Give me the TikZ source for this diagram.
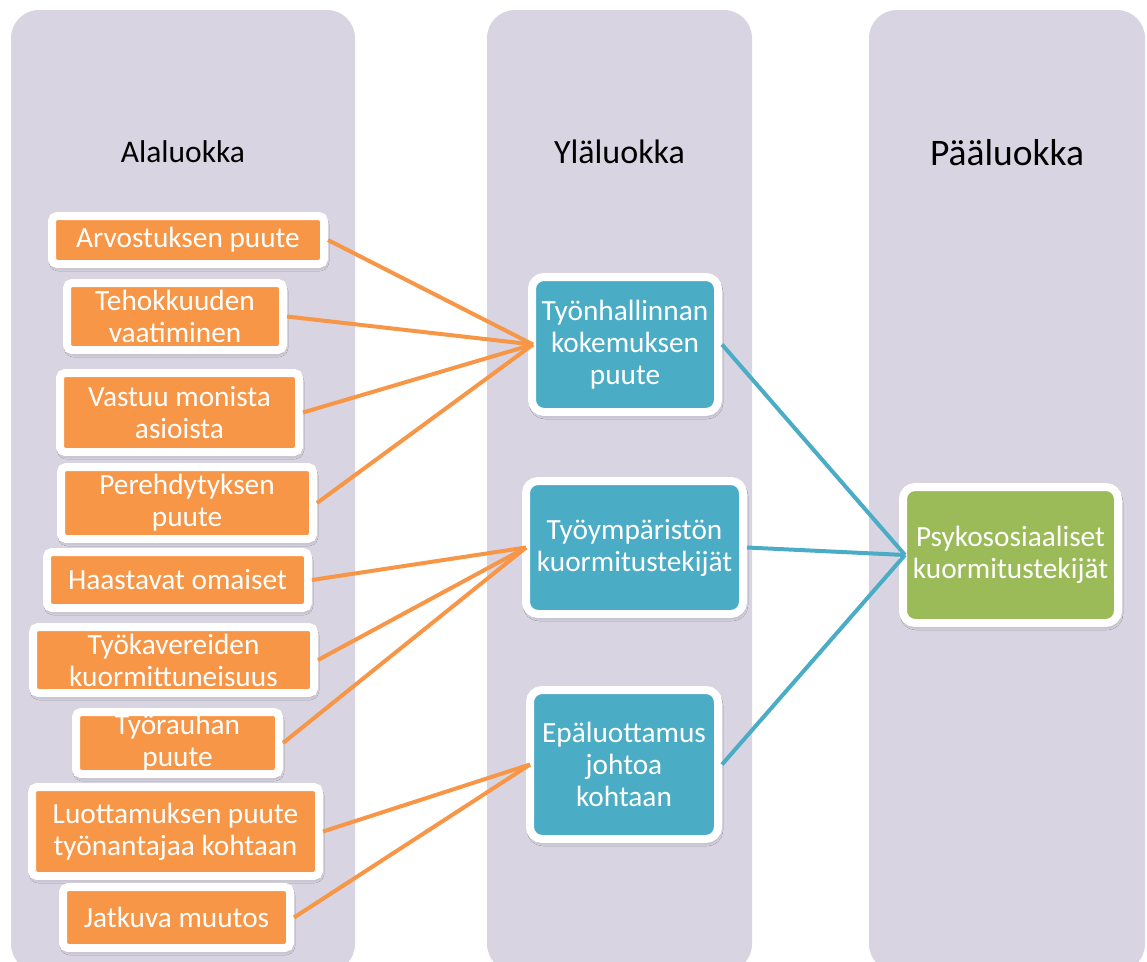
\documentclass[tikz,border=0pt]{standalone}
\usepackage{fontspec}
\setmainfont{Carlito}
\usetikzlibrary{shadows.blur}

\definecolor{colbg}{RGB}{216,212,226}
\definecolor{orangebox}{RGB}{247,150,70}
\definecolor{bluebox}{RGB}{75,172,198}
\definecolor{greenbox}{RGB}{155,187,89}

\tikzset{
  column/.style={fill=colbg, rounded corners=28pt},
  header/.style={text=black, inner sep=0pt},
  card/.style={draw=white, line width=8pt, text=white, align=center,
    inner sep=0pt, font=\fontsize{29.3}{32}\selectfont,
    blur shadow={shadow xshift=1pt, shadow yshift=-3pt,
      shadow blur radius=4pt, shadow opacity=35}},
  leafbox/.style={card, fill=orangebox, rounded corners=5pt},
  midbox/.style={card, fill=bluebox, rounded corners=12pt},
  rootbox/.style={card, fill=greenbox, rounded corners=12pt},
  olink/.style={draw=orangebox, line width=4pt},
  blink/.style={draw=bluebox, line width=4pt},
}

\begin{document}
\begin{tikzpicture}[x=1pt, y=-1pt]
  \useasboundingbox (0,0) rectangle (1147,961);

  % three category columns
  \fill[column] (11,10) rectangle (355,972);
  \fill[column] (487,10) rectangle (752,972);
  \fill[column] (869,10) rectangle (1145,972);

  % column headings
  \node[header, font=\fontsize{31.5}{36}\selectfont] (h1) at (183,152) {Alaluokka};
  \node[header, font=\fontsize{34}{38}\selectfont] (h2) at (619.5,152) {Yläluokka};
  \node[header, font=\fontsize{37.5}{42}\selectfont] (h3) at (1007,153) {Pääluokka};

  % sub-categories
  \node[leafbox, minimum width=272pt, minimum height=48pt] (a1) at (188,240) {Arvostuksen puute};
  \node[leafbox, minimum width=216pt, minimum height=67pt] (a2) at (175,316.5) {Tehokkuuden\\vaatiminen};
  \node[leafbox, minimum width=239pt, minimum height=79pt] (a3) at (179.5,412.5) {Vastuu monista\\asioista};
  \node[leafbox, minimum width=252pt, minimum height=72pt] (a4) at (187,503) {Perehdytyksen\\puute};
  \node[leafbox, minimum width=261pt, minimum height=56pt] (a5) at (177.5,580) {Haastavat omaiset};
  \node[leafbox, minimum width=281pt, minimum height=66pt] (a6) at (173.5,660) {Työkavereiden\\kuormittuneisuus};
  \node[leafbox, minimum width=203pt, minimum height=62pt] (a7) at (177.5,743) {Työrauhan\\puute};
  \node[leafbox, minimum width=287pt, minimum height=89pt] (a8) at (175.5,831.5) {Luottamuksen puute\\työnantajaa kohtaan};
  \node[leafbox, minimum width=227pt, minimum height=61pt] (a9) at (176.5,917.5) {Jatkuva muutos};

  % upper categories
  \node[midbox, minimum width=186pt, minimum height=135pt] (b1) at (625,344.5) {Työnhallinnan\\kokemuksen\\puute};
  \node[midbox, minimum width=217pt, minimum height=133pt] (b2) at (634.5,547.5) {Työympäristön\\kuormitustekijät};
  \node[midbox, minimum width=188pt, minimum height=149pt] (b3) at (624,764.5) {Epäluottamus\\johtoa\\kohtaan};

  % main category
  \node[rootbox, minimum width=215pt, minimum height=136pt] (g) at (1010.5,555) {Psykososiaaliset\\kuormitustekijät};

  % links from sub-categories
  \draw[olink] (a1.east) -- ([xshift=5pt]b1.west);
  \draw[olink] (a2.east) -- ([xshift=5pt]b1.west);
  \draw[olink] (a3.east) -- ([xshift=5pt]b1.west);
  \draw[olink] (a4.east) -- ([xshift=5pt]b1.west);
  \draw[olink] (a5.east) -- ([xshift=4pt]b2.west);
  \draw[olink] (a6.east) -- ([xshift=4pt]b2.west);
  \draw[olink] (a7.east) -- ([xshift=4pt]b2.west);
  \draw[olink] (a8.east) -- ([xshift=4pt]b3.west);
  \draw[olink] (a9.east) -- ([xshift=4pt]b3.west);

  % links to the main category
  \draw[blink] (b1.east) -- ([xshift=6pt]g.west);
  \draw[blink] (b2.east) -- ([xshift=6pt]g.west);
  \draw[blink] (b3.east) -- ([xshift=6pt]g.west);
\end{tikzpicture}
\end{document}
